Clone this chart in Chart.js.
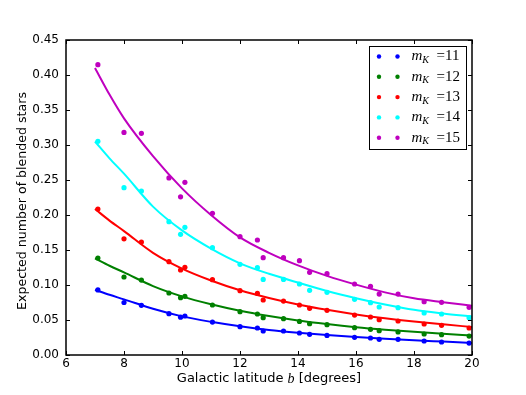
<!DOCTYPE html>
<html>
<head>
<meta charset="utf-8">
<script src="https://cdn.jsdelivr.net/npm/chart.js@4.4.0/dist/chart.umd.min.js"></script>
<style>
  html, body { margin: 0; padding: 0; background: #fff; }
</style>
</head>
<body>
<canvas id="blendChart" width="526" height="395"></canvas>
<script>
// galactic latitudes of the fields (degrees)
const latitudes = [7.1, 8.0, 8.6, 9.55, 9.95, 10.1, 11.05, 12.0, 12.6, 12.8, 13.5,
  14.05, 14.4, 15.0, 15.95, 16.5, 16.8, 17.45, 18.35, 18.95, 19.9];

// expected number of blended stars, per limiting magnitude
const blended11 = [0.093, 0.075, 0.071, 0.059, 0.054, 0.0557, 0.047, 0.0405, 0.0386, 0.0343, 0.0343,
  0.0314, 0.0295, 0.028, 0.0253, 0.0243, 0.0224, 0.0224, 0.020, 0.0186, 0.0171];
const blended12 = [0.1386, 0.1114, 0.107, 0.0886, 0.0819, 0.0838, 0.0714, 0.0619, 0.0586, 0.0533, 0.0519,
  0.048, 0.0448, 0.0433, 0.039, 0.0367, 0.0348, 0.0329, 0.030, 0.029, 0.0271];
const blended13 = [0.2086, 0.166, 0.1614, 0.1333, 0.1214, 0.1252, 0.1076, 0.0919, 0.088, 0.0786, 0.077,
  0.0714, 0.0667, 0.0638, 0.0571, 0.0543, 0.0505, 0.0486, 0.0443, 0.0424, 0.0386];
const blended14 = [0.3053, 0.239, 0.2343, 0.1905, 0.1724, 0.1824, 0.1533, 0.1295, 0.1248, 0.108, 0.108,
  0.1014, 0.0924, 0.0895, 0.0795, 0.0748, 0.0686, 0.0676, 0.060, 0.0586, 0.0533];
const blended15 = [0.4147, 0.318, 0.3167, 0.2529, 0.226, 0.2467, 0.2024, 0.169, 0.1643, 0.139, 0.139,
  0.1348, 0.1181, 0.1162, 0.1014, 0.0981, 0.0871, 0.0871, 0.0762, 0.0752, 0.0681];

const fitLatitudes = [7, 7.5, 8, 9, 10, 11, 12, 13, 14, 15, 16, 17, 18, 19, 20];
const fit11 = [0.093, 0.086, 0.0795, 0.066, 0.0552, 0.0474, 0.041, 0.0358, 0.0318, 0.0284, 0.0256, 0.0232, 0.0211, 0.0192, 0.0173];
const fit12 = [0.138, 0.1275, 0.118, 0.0985, 0.0838, 0.0725, 0.0632, 0.0556, 0.0493, 0.0442, 0.0398, 0.0362, 0.0331, 0.0303, 0.0278];
const fit13 = [0.2086, 0.192, 0.177, 0.146, 0.1235, 0.1065, 0.0925, 0.0815, 0.0722, 0.0645, 0.058, 0.0525, 0.0478, 0.0438, 0.040];
const fit14 = [0.305, 0.281, 0.259, 0.212, 0.178, 0.152, 0.131, 0.116, 0.1035, 0.0915, 0.0812, 0.0722, 0.0645, 0.0593, 0.055];
const fit15 = [0.410, 0.372, 0.338, 0.284, 0.238, 0.200, 0.168, 0.146, 0.128, 0.113, 0.1005, 0.0895, 0.081, 0.0755, 0.0705];

const magnitudes = ["11", "12", "13", "14", "15"];
const colors = ["#0000ff", "#008000", "#ff0000", "#00ffff", "#bf00bf"];
const pointSeries = [blended11, blended12, blended13, blended14, blended15];
const fitSeries = [fit11, fit12, fit13, fit14, fit15];

const xTicks = [6, 8, 10, 12, 14, 16, 18, 20];
const yTicks = [0, 0.05, 0.1, 0.15, 0.2, 0.25, 0.3, 0.35, 0.4, 0.45];

const toXY = (xs, ys) => xs.map((x, i) => ({ x: x, y: ys[i] }));

const datasets = [];
magnitudes.forEach((m, i) => {
  datasets.push({
    label: "fit " + m,
    data: toXY(fitLatitudes, fitSeries[i]),
    showLine: true,
    borderColor: colors[i],
    borderWidth: 2,
    pointRadius: 0,
    cubicInterpolationMode: "monotone",
  });
  datasets.push({
    label: "m_K =" + m,
    data: toXY(latitudes, pointSeries[i]),
    showLine: false,
    backgroundColor: colors[i],
    borderWidth: 0,
    pointRadius: 2.6,
  });
});

// frame with inward ticks, axis titles and the legend box
const decorations = {
  id: "decorations",
  afterDraw(chart) {
    const ctx = chart.ctx;
    const a = chart.chartArea;
    const xs = chart.scales.x, ys = chart.scales.y;
    ctx.save();
    ctx.strokeStyle = "#000";
    ctx.lineWidth = 1;
    ctx.beginPath();
    xTicks.forEach((t) => {
      const px = Math.round(xs.getPixelForValue(t)) + 0.5;
      ctx.moveTo(px, a.bottom); ctx.lineTo(px, a.bottom - 4);
      ctx.moveTo(px, a.top); ctx.lineTo(px, a.top + 4);
    });
    yTicks.forEach((t) => {
      const py = Math.round(ys.getPixelForValue(t)) + 0.5;
      ctx.moveTo(a.left, py); ctx.lineTo(a.left + 4, py);
      ctx.moveTo(a.right, py); ctx.lineTo(a.right - 4, py);
    });
    ctx.stroke();
    ctx.lineWidth = 1.5;
    ctx.strokeRect(a.left, a.top, a.right - a.left, a.bottom - a.top);

    // x title with italic b
    ctx.fillStyle = "#000";
    ctx.textBaseline = "middle";
    ctx.textAlign = "left";
    const sans = '13px "DejaVu Sans"';
    const serifIt = 'italic 14px "Liberation Serif"';
    const p1 = "Galactic latitude ", p3 = " [degrees]";
    ctx.font = sans;
    const w1 = ctx.measureText(p1).width, w3 = ctx.measureText(p3).width;
    ctx.font = serifIt;
    const w2 = ctx.measureText("b").width;
    const x0 = (a.left + a.right) / 2 - (w1 + w2 + w3) / 2;
    ctx.font = sans;
    ctx.fillText(p1, x0, 379);
    ctx.font = serifIt;
    ctx.fillText("b", x0 + w1, 379);
    ctx.font = sans;
    ctx.fillText(p3, x0 + w1 + w2, 379);

    // y title
    ctx.save();
    ctx.translate(23, 201);
    ctx.rotate(-Math.PI / 2);
    ctx.textAlign = "center";
    ctx.font = '12.6px "DejaVu Sans"';
    ctx.fillText("Expected number of blended stars", 0, 0);
    ctx.restore();

    // legend
    ctx.fillStyle = "#fff";
    ctx.fillRect(369.5, 46.5, 97, 103);
    ctx.lineWidth = 1;
    ctx.strokeStyle = "#000";
    ctx.strokeRect(369.5, 46.5, 97, 103);
    magnitudes.forEach((m, i) => {
      const y = 56.5 + i * 20.3;
      ctx.fillStyle = colors[i];
      [379, 397.5].forEach((mx) => {
        ctx.beginPath();
        ctx.arc(mx, y, 2.2, 0, Math.PI * 2);
        ctx.fill();
      });
      ctx.fillStyle = "#000";
      ctx.textAlign = "left";
      ctx.font = 'italic 15px "Liberation Serif"';
      ctx.fillText("m", 411.5, y);
      const mw = ctx.measureText("m").width;
      ctx.font = 'italic 10px "Liberation Serif"';
      ctx.fillText("K", 411.5 + mw, y + 4);
      ctx.font = '15px "Liberation Serif"';
      ctx.fillText("=" + m, 436.5, y);
    });
    ctx.restore();
  },
};

new Chart(document.getElementById("blendChart").getContext("2d"), {
  type: "scatter",
  data: { datasets: datasets },
  options: {
    responsive: false,
    animation: false,
    layout: { padding: { left: 0, top: 40, right: 54, bottom: 0 } },
    plugins: { legend: { display: false }, tooltip: { enabled: false } },
    scales: {
      x: {
        type: "linear",
        min: 6,
        max: 20,
        afterFit: (s) => { s.height = 40; },
        afterBuildTicks: (s) => { s.ticks = xTicks.map((v) => ({ value: v })); },
        grid: { display: false, drawTicks: false, tickLength: 0 },
        border: { display: false },
        ticks: { color: "#000", padding: 2, font: { family: "DejaVu Sans", size: 12 } },
      },
      y: {
        type: "linear",
        min: 0,
        max: 0.45,
        afterFit: (s) => { s.width = 66; },
        afterBuildTicks: (s) => { s.ticks = yTicks.map((v) => ({ value: v })); },
        grid: { display: false, drawTicks: false, tickLength: 0 },
        border: { display: false },
        ticks: {
          color: "#000",
          padding: 7,
          font: { family: "DejaVu Sans", size: 12 },
          callback: (v) => v.toFixed(2),
        },
      },
    },
  },
  plugins: [decorations],
});
</script>
</body>
</html>
